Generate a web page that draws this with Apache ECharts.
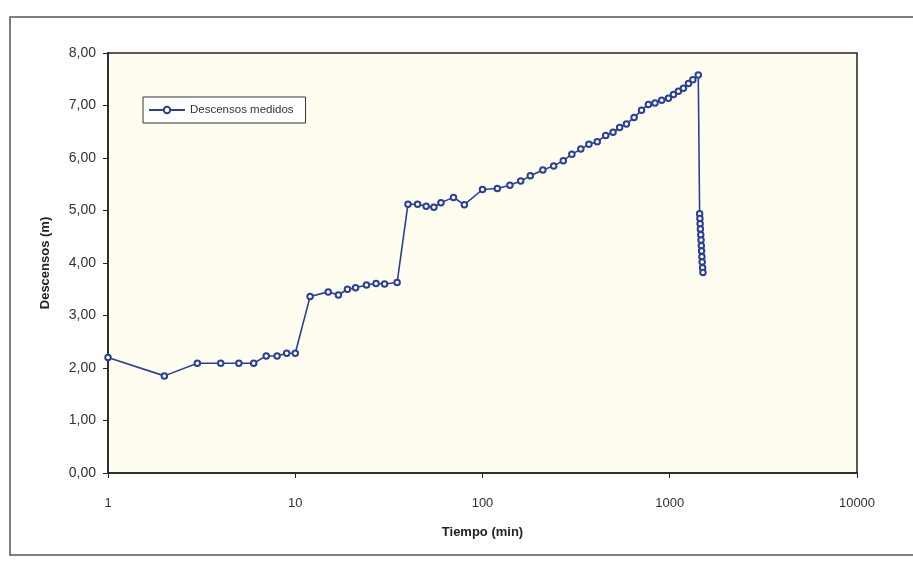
<!DOCTYPE html>
<html>
<head>
<meta charset="utf-8">
<script src="https://cdn.jsdelivr.net/npm/echarts@6/dist/echarts.min.js"></script>
<style>
html,body{margin:0;padding:0;background:#fff;}
#c{width:913px;height:572px;}
</style>
</head>
<body>
<div id="c"></div>
<script>
// Tiempo (min)
var tiempos = [1,2,3,4,5,6,7,8,9,10,
  12,15,17,19,21,24,27,30,35,40,45,50,55,60,70,80,
  100,120,140,160,180,210,240,270,300,335,370,410,
  455,498,540,587,645,707,769,834,906,984,1047,1112,1183,1259,1328,1420,
  1444,1449,1453,1458,1464,1469,1474,1479,1485,1490,1497,1504];
// Descensos (m)
var descensos = [2.20,1.85,2.09,2.09,2.09,2.09,2.23,2.23,2.28,2.28,
  3.36,3.45,3.39,3.50,3.53,3.58,3.61,3.60,3.63,5.12,5.12,5.08,5.06,5.15,5.25,5.11,
  5.40,5.42,5.48,5.56,5.66,5.77,5.85,5.95,6.07,6.17,6.26,6.31,
  6.43,6.49,6.58,6.65,6.77,6.91,7.02,7.05,7.10,7.14,7.21,7.27,7.33,7.42,7.49,7.58,
  4.94,4.85,4.75,4.65,4.54,4.44,4.33,4.23,4.12,4.02,3.91,3.82];
var xTicks = [1,10,100,1000,10000];
var yMin = 0, yMax = 8, yStep = 1;
var serieNombre = 'Descensos medidos';
var xTitulo = 'Tiempo (min)';
var yTitulo = 'Descensos (m)';

var datos = tiempos.map(function(t,i){ return [t, descensos[i]]; });

var chart = echarts.init(document.getElementById('c'), null, {renderer:'canvas'});
var font = '"Liberation Sans", Arial, sans-serif';
chart.setOption({
  animation:false,
  backgroundColor:'#ffffff',
  graphic:[{
    type:'rect', silent:true, z:-10,
    shape:{x:10, y:17, width:920, height:538},
    style:{fill:'none', stroke:'#555', lineWidth:1.5}
  }],
  grid:{left:108, right:56, top:53, bottom:99, show:true,
        backgroundColor:'#fefdf0', borderColor:'#222', borderWidth:1.5},
  legend:{
    data:[serieNombre], left:143, top:97,
    backgroundColor:'#ffffff', borderColor:'#333', borderWidth:1,
    borderRadius:0, padding:[7,12,7,5],
    itemWidth:36, itemHeight:8, itemGap:4,
    textStyle:{fontFamily:font, fontSize:11.5, color:'#333'}
  },
  xAxis:{
    type:'log', logBase:10, min:1, max:10000,
    name:xTitulo, nameLocation:'middle', nameGap:53,
    nameTextStyle:{fontFamily:font, fontSize:13, fontWeight:'bold', color:'#222'},
    axisLine:{show:true, lineStyle:{color:'#222', width:1.5}},
    axisTick:{show:true, length:5, inside:false, lineStyle:{color:'#222'}},
    minorTick:{show:false},
    splitLine:{show:false},
    axisLabel:{margin:24, fontFamily:font, fontSize:13, color:'#333',
      formatter:function(v){ return String(Math.round(v)); }}
  },
  yAxis:{
    type:'value', min:yMin, max:yMax, interval:yStep,
    name:yTitulo, nameLocation:'middle', nameGap:56, nameRotate:90,
    nameTextStyle:{fontFamily:font, fontSize:13, fontWeight:'bold', color:'#222'},
    axisLine:{show:true, lineStyle:{color:'#222', width:1.5}},
    axisTick:{show:true, length:5, inside:false, lineStyle:{color:'#222'}},
    splitLine:{show:false},
    axisLabel:{margin:12, fontFamily:font, fontSize:14, color:'#333',
      formatter:function(v){ return v.toFixed(2).replace('.', ','); }}
  },
  series:[{
    name:serieNombre, type:'line', data:datos,
    symbol:'emptyCircle', symbolSize:5.5, showAllSymbol:true,
    lineStyle:{color:'#2a4096', width:1.6},
    itemStyle:{color:'#2a4096', borderColor:'#2a4096', borderWidth:1.5}
  }]
});
</script>
</body>
</html>
